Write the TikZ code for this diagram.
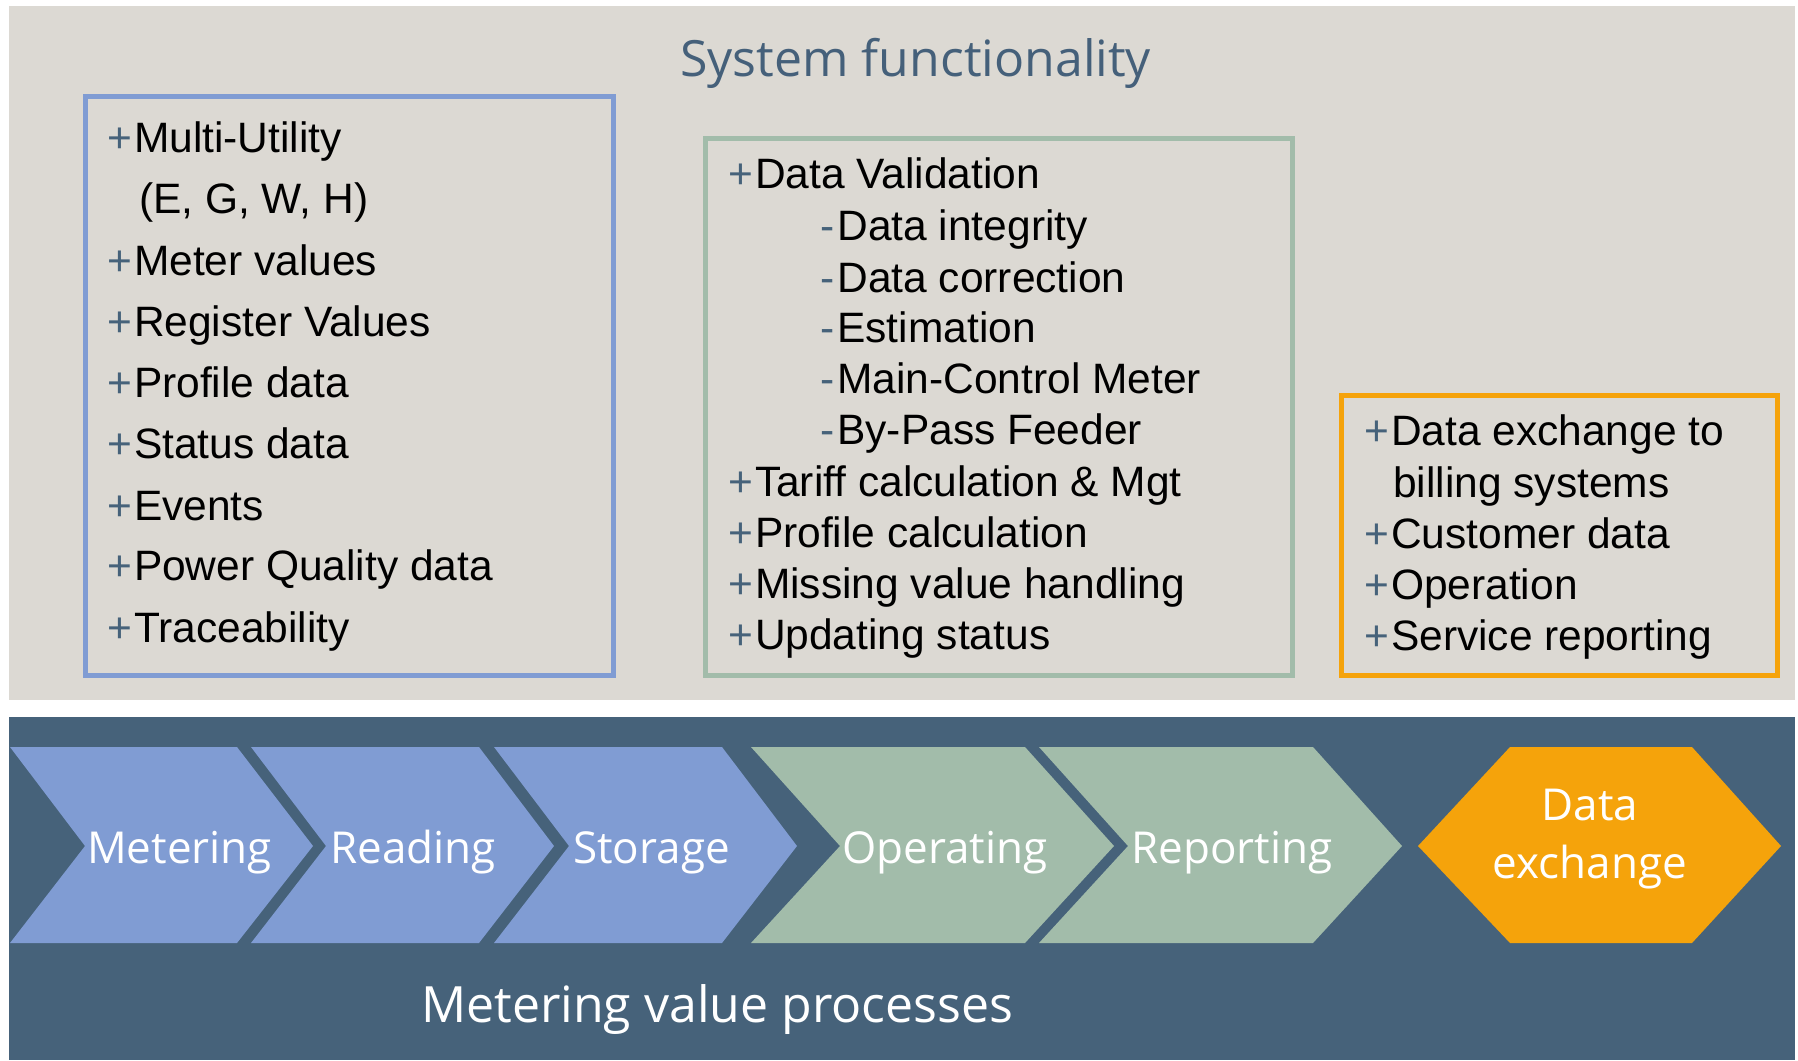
\documentclass[tikz,border=0pt]{standalone}
\usepackage{fontspec}
\setmainfont{Liberation Sans}
\newfontfamily\osans{Open Sans}
\definecolor{bgc}{HTML}{DCD9D3}
\definecolor{panelc}{HTML}{46627A}
\definecolor{bluec}{HTML}{809CD3}
\definecolor{greenc}{HTML}{A2BCAA}
\definecolor{orangec}{HTML}{F5A30B}
\definecolor{titlec}{HTML}{45607A}
\newcommand\plusmark{{\color{panelc}+}\hspace{2pt}}
\newcommand\dashmark{{\color{panelc}-}\hspace{3pt}}
\tikzset{
  item/.style={anchor=base west, inner sep=0pt, font=\fontsize{42.5}{42.5}\selectfont},
  frame/.style={draw, line width=5pt, anchor=north west, inner sep=0pt},
  chevtext/.style={anchor=base west, inner sep=0pt, text=white, font=\osans\fontsize{44}{44}\selectfont},
}
\begin{document}
\begin{tikzpicture}[x=1pt,y=-1pt]
\useasboundingbox (0,0) rectangle (1798,1060);
\fill[white] (0,0) rectangle (1798,1060);
\fill[bgc] (9,6) rectangle (1795,700);
\fill[panelc] (9,717) rectangle (1795,1060);

% title
\node[anchor=base west, inner sep=0pt, text=titlec, font=\osans\fontsize{50}{50}\selectfont] (title) at (680,76) {System functionality};

% boxes
\node[frame, draw=bluec, minimum width=528pt, minimum height=579pt] (bluebox) at (83,94) {};
\node[frame, draw=greenc, minimum width=587pt, minimum height=537pt] (greenbox) at (703,136) {};
\node[frame, draw=orangec, minimum width=436pt, minimum height=280pt] (orangebox) at (1339,393) {};

% blue list
\node[item] (b1) at (107,152) {\plusmark Multi-Utility};
\node[item] (b2) at (139,213) {(E, G, W, H)};
\node[item] (b3) at (107,275) {\plusmark Meter values};
\node[item] (b4) at (107,336) {\plusmark Register Values};
\node[item] (b5) at (107,397) {\plusmark Profile data};
\node[item] (b6) at (107,458) {\plusmark Status data};
\node[item] (b7) at (107,520) {\plusmark Events};
\node[item] (b8) at (107,580) {\plusmark Power Quality data};
\node[item] (b9) at (107,642) {\plusmark Traceability};

% green list
\node[item] (g1) at (728,188) {\plusmark Data Validation};
\node[item] (g2) at (820,240) {\dashmark Data integrity};
\node[item] (g3) at (820,292) {\dashmark Data correction};
\node[item] (g4) at (820,342) {\dashmark Estimation};
\node[item] (g5) at (820,393) {\dashmark Main-Control Meter};
\node[item] (g6) at (820,444) {\dashmark By-Pass Feeder};
\node[item] (g7) at (728,496) {\plusmark Tariff calculation \& Mgt};
\node[item] (g8) at (728,547) {\plusmark Profile calculation};
\node[item] (g9) at (728,598) {\plusmark Missing value handling};
\node[item] (g10) at (728,649) {\plusmark Updating status};

% orange list
\node[item] (o1) at (1364,445) {\plusmark Data exchange to};
\node[item] (o2) at (1393,497) {billing systems};
\node[item] (o3) at (1364,548) {\plusmark Customer data};
\node[item] (o4) at (1364,599) {\plusmark Operation};
\node[item] (o5) at (1364,650) {\plusmark Service reporting};

% chevrons
\fill[bluec] (10,747) -- (237,747) -- (313,846) -- (237,943) -- (10,943) -- (85,846) -- cycle;
\fill[bluec] (251,747) -- (479,747) -- (554,846) -- (479,943) -- (251,943) -- (326,846) -- cycle;
\fill[bluec] (494,747) -- (722,747) -- (797,846) -- (722,943) -- (494,943) -- (569,846) -- cycle;
\fill[greenc] (751,747) -- (1025,747) -- (1114,846) -- (1025,943) -- (751,943) -- (840,846) -- cycle;
\fill[greenc] (1039,747) -- (1313,747) -- (1402,846) -- (1313,943) -- (1039,943) -- (1128,846) -- cycle;
\fill[orangec] (1418,846) -- (1510,747) -- (1692,747) -- (1781,846) -- (1692,943) -- (1510,943) -- cycle;

\node[chevtext] (metering) at (87,863) {Metering};
\node[chevtext] (reading) at (330,863) {Reading};
\node[chevtext] (storage) at (573,863) {Storage};
\node[chevtext] (operating) at (842,863) {Operating};
\node[chevtext] (reporting) at (1131,863) {Reporting};
\node[chevtext, anchor=base] (dx1) at (1590,820) {Data};
\node[chevtext, anchor=base] (dx2) at (1590,878) {exchange};

\node[anchor=base west, inner sep=0pt, text=white, font=\osans\fontsize{50}{50}\selectfont] (mvp) at (421,1022) {Metering value processes};
\end{tikzpicture}
\end{document}
